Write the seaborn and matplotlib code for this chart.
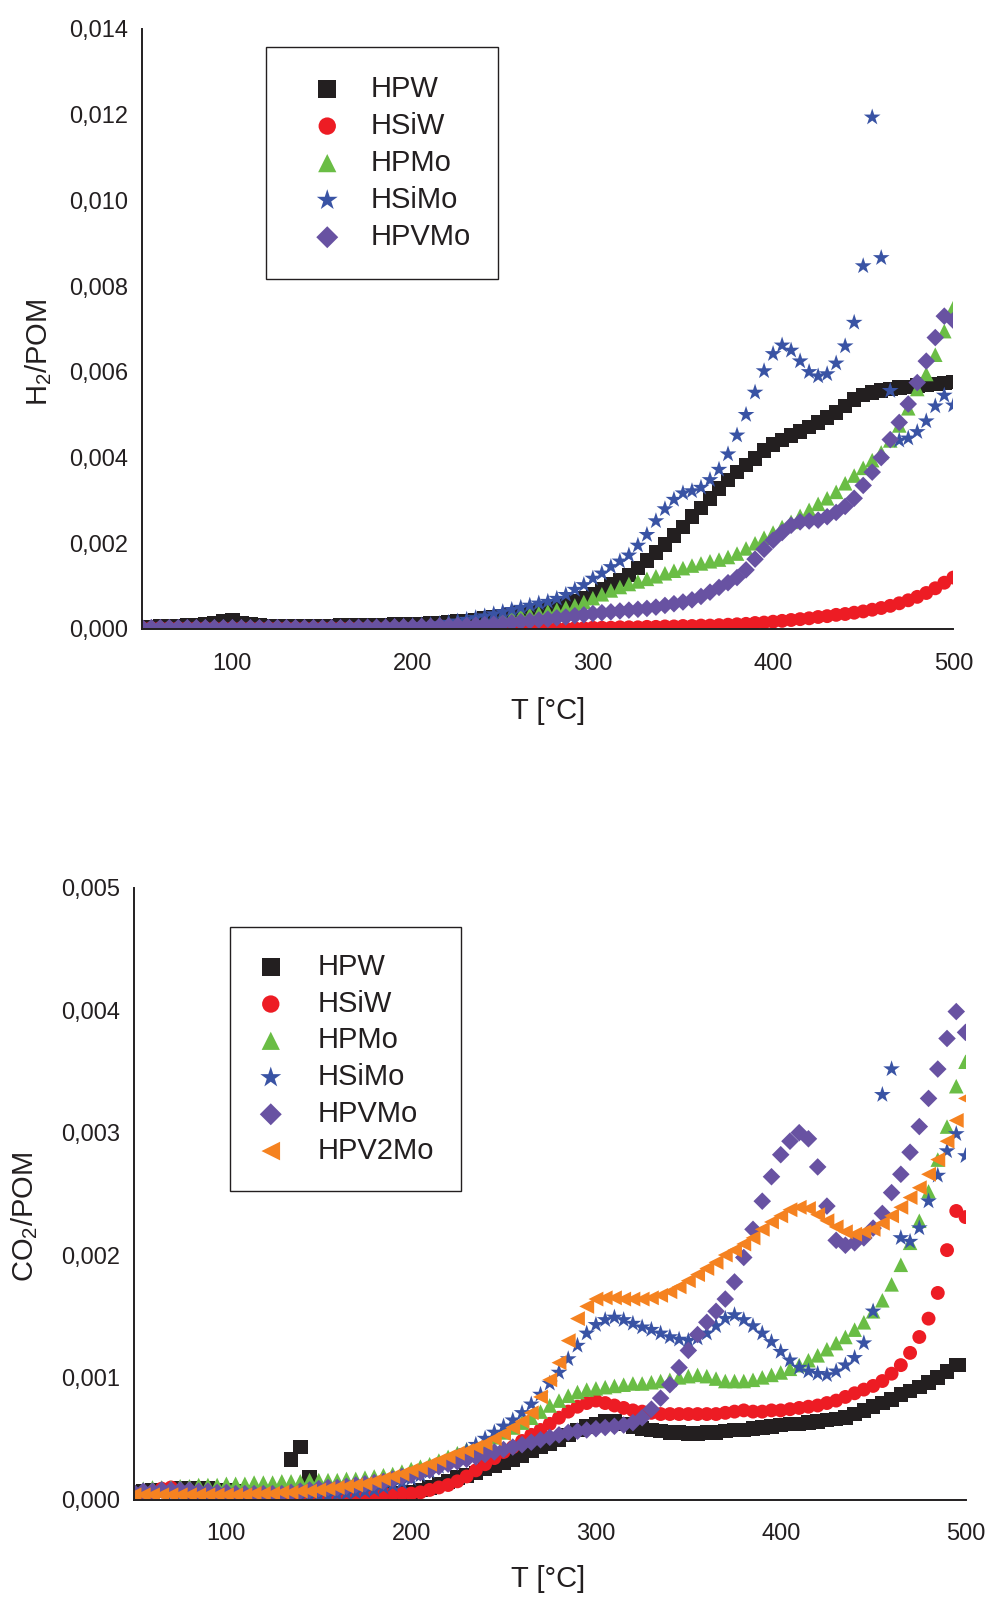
import numpy as np
import pandas as pd
import matplotlib
matplotlib.use('Agg')
import matplotlib.pyplot as plt
import seaborn as sns
from matplotlib.ticker import MultipleLocator, FuncFormatter

# Temperature grid [°C], one reading every 5 degrees
T = [50, 55, 60, 65, 70, 75, 80, 85, 90, 95,
     100, 105, 110, 115, 120, 125, 130, 135, 140, 145,
     150, 155, 160, 165, 170, 175, 180, 185, 190, 195,
     200, 205, 210, 215, 220, 225, 230, 235, 240, 245,
     250, 255, 260, 265, 270, 275, 280, 285, 290, 295,
     300, 305, 310, 315, 320, 325, 330, 335, 340, 345,
     350, 355, 360, 365, 370, 375, 380, 385, 390, 395,
     400, 405, 410, 415, 420, 425, 430, 435, 440, 445,
     450, 455, 460, 465, 470, 475, 480, 485, 490, 495,
     500]

# ---- H2/POM (values x 1e-3) ----
h2_HPW = [0.05, 0.05, 0.06, 0.06, 0.07, 0.08, 0.09, 0.11, 0.14, 0.18,
          0.20, 0.14, 0.10, 0.08, 0.07, 0.07, 0.07, 0.07, 0.07, 0.07,
          0.07, 0.07, 0.08, 0.08, 0.08, 0.08, 0.09, 0.09, 0.10, 0.10,
          0.11, 0.12, 0.13, 0.14, 0.15, 0.17, 0.19, 0.21, 0.24, 0.27,
          0.30, 0.33, 0.36, 0.40, 0.44, 0.48, 0.53, 0.58, 0.64, 0.72,
          0.82, 0.93, 1.04, 1.14, 1.26, 1.42, 1.60, 1.78, 1.97, 2.18,
          2.38, 2.62, 2.82, 3.05, 3.28, 3.48, 3.66, 3.83, 3.98, 4.16,
          4.30, 4.41, 4.52, 4.61, 4.71, 4.82, 4.93, 5.05, 5.20, 5.35,
          5.46, 5.52, 5.56, 5.60, 5.63, 5.65, 5.68, 5.70, 5.72, 5.74,
          5.76]
h2_HSiW = [0.02, 0.02, 0.02, 0.02, 0.02, 0.02, 0.02, 0.02, 0.02, 0.02,
           0.02, 0.02, 0.02, 0.02, 0.02, 0.02, 0.02, 0.02, 0.02, 0.02,
           0.02, 0.02, 0.02, 0.02, 0.02, 0.02, 0.02, 0.02, 0.02, 0.02,
           0.02, 0.02, 0.02, 0.02, 0.02, 0.02, 0.02, 0.02, 0.02, 0.02,
           0.01, 0.01, 0.01, 0.01, 0.01, 0.01, 0.01, 0.01, 0.02, 0.02,
           0.03, 0.03, 0.03, 0.04, 0.04, 0.04, 0.05, 0.05, 0.06, 0.06,
           0.07, 0.07, 0.08, 0.08, 0.09, 0.10, 0.11, 0.12, 0.14, 0.15,
           0.17, 0.19, 0.21, 0.23, 0.25, 0.28, 0.30, 0.33, 0.35, 0.38,
           0.41, 0.45, 0.49, 0.54, 0.60, 0.67, 0.75, 0.84, 0.95, 1.08,
           1.20]
h2_HPMo = [0.05, 0.05, 0.05, 0.05, 0.05, 0.05, 0.05, 0.05, 0.05, 0.05,
           0.05, 0.05, 0.05, 0.05, 0.05, 0.05, 0.05, 0.05, 0.05, 0.05,
           0.05, 0.05, 0.06, 0.06, 0.06, 0.06, 0.07, 0.07, 0.07, 0.08,
           0.08, 0.09, 0.10, 0.12, 0.14, 0.16, 0.18, 0.20, 0.23, 0.25,
           0.27, 0.29, 0.32, 0.34, 0.37, 0.41, 0.45, 0.50, 0.55, 0.63,
           0.72, 0.81, 0.90, 0.98, 1.05, 1.11, 1.17, 1.23, 1.30, 1.36,
           1.42, 1.48, 1.53, 1.58, 1.62, 1.68, 1.76, 1.88, 2.00, 2.13,
           2.25, 2.38, 2.50, 2.64, 2.78, 2.92, 3.05, 3.20, 3.40, 3.58,
           3.76, 3.94, 4.12, 4.40, 4.75, 5.15, 5.60, 5.95, 6.40, 6.95,
           7.50]
h2_HSiMo = [0.03, 0.03, 0.03, 0.03, 0.03, 0.03, 0.03, 0.03, 0.03, 0.03,
            0.03, 0.03, 0.03, 0.03, 0.03, 0.03, 0.03, 0.03, 0.03, 0.03,
            0.03, 0.03, 0.04, 0.04, 0.04, 0.05, 0.05, 0.06, 0.06, 0.07,
            0.08, 0.09, 0.10, 0.12, 0.15, 0.18, 0.22, 0.26, 0.30, 0.35,
            0.40, 0.45, 0.50, 0.55, 0.60, 0.64, 0.71, 0.80, 0.92, 1.03,
            1.18, 1.30, 1.45, 1.58, 1.72, 1.95, 2.20, 2.52, 2.80, 3.02,
            3.17, 3.22, 3.30, 3.48, 3.72, 4.08, 4.52, 5.00, 5.52, 6.02,
            6.42, 6.62, 6.50, 6.25, 6.00, 5.90, 5.95, 6.20, 6.60, 7.15,
            8.47, 11.94, 8.66, 5.56, 4.40, 4.45, 4.60, 4.85, 5.20, 5.45,
            5.22]
h2_HPVMo = [0.03, 0.03, 0.03, 0.03, 0.03, 0.03, 0.03, 0.03, 0.03, 0.03,
            0.03, 0.03, 0.03, 0.03, 0.03, 0.03, 0.03, 0.03, 0.03, 0.03,
            0.03, 0.03, 0.03, 0.03, 0.04, 0.04, 0.04, 0.04, 0.05, 0.05,
            0.05, 0.06, 0.06, 0.07, 0.07, 0.08, 0.08, 0.09, 0.10, 0.11,
            0.13, 0.15, 0.17, 0.19, 0.21, 0.23, 0.26, 0.28, 0.31, 0.33,
            0.36, 0.38, 0.40, 0.42, 0.44, 0.46, 0.48, 0.51, 0.55, 0.59,
            0.63, 0.68, 0.76, 0.86, 0.97, 1.08, 1.20, 1.38, 1.63, 1.86,
            2.07, 2.25, 2.42, 2.50, 2.52, 2.54, 2.62, 2.72, 2.86, 3.05,
            3.35, 3.66, 4.00, 4.42, 4.82, 5.25, 5.75, 6.25, 6.80, 7.30,
            7.20]

# ---- CO2/POM (values x 1e-3) ----
co2_HPW = [0.06, 0.07, 0.08, 0.08, 0.08, 0.09, 0.09, 0.09, 0.09, 0.08,
           0.08, 0.07, 0.06, 0.05, 0.05, 0.05, 0.05, 0.33, 0.43, 0.18,
           0.04, 0.03, 0.03, 0.03, 0.03, 0.03, 0.04, 0.04, 0.05, 0.05,
           0.06, 0.08, 0.10, 0.13, 0.15, 0.18, 0.20, 0.22, 0.25, 0.28,
           0.30, 0.33, 0.36, 0.40, 0.43, 0.46, 0.49, 0.53, 0.57, 0.60,
           0.62, 0.64, 0.64, 0.62, 0.60, 0.58, 0.57, 0.56, 0.55, 0.55,
           0.54, 0.54, 0.55, 0.55, 0.56, 0.57, 0.57, 0.58, 0.59, 0.60,
           0.61, 0.62, 0.62, 0.63, 0.64, 0.65, 0.66, 0.67, 0.70, 0.73,
           0.76, 0.79, 0.82, 0.86, 0.89, 0.92, 0.96, 1.00, 1.05, 1.10,
           1.10]
co2_HSiW = [0.05, 0.05, 0.06, 0.09, 0.10, 0.07, 0.05, 0.04, 0.04, 0.04,
            0.04, 0.04, 0.04, 0.04, 0.04, 0.04, 0.04, 0.04, 0.04, 0.04,
            0.04, 0.04, 0.04, 0.04, 0.04, 0.04, 0.04, 0.05, 0.05, 0.05,
            0.05, 0.06, 0.08, 0.10, 0.12, 0.15, 0.19, 0.24, 0.29, 0.34,
            0.39, 0.43, 0.48, 0.53, 0.57, 0.62, 0.67, 0.72, 0.76, 0.79,
            0.81, 0.79, 0.77, 0.75, 0.73, 0.72, 0.71, 0.70, 0.70, 0.70,
            0.70, 0.70, 0.70, 0.70, 0.71, 0.72, 0.73, 0.72, 0.72, 0.73,
            0.73, 0.74, 0.75, 0.76, 0.77, 0.79, 0.81, 0.84, 0.87, 0.90,
            0.93, 0.97, 1.03, 1.10, 1.20, 1.33, 1.48, 1.69, 2.04, 2.36,
            2.31]
co2_HPMo = [0.08, 0.09, 0.10, 0.10, 0.10, 0.11, 0.11, 0.12, 0.12, 0.12,
            0.13, 0.13, 0.13, 0.14, 0.14, 0.14, 0.15, 0.15, 0.15, 0.16,
            0.16, 0.16, 0.16, 0.17, 0.17, 0.18, 0.19, 0.20, 0.21, 0.23,
            0.25, 0.27, 0.29, 0.32, 0.35, 0.38, 0.41, 0.44, 0.47, 0.51,
            0.55, 0.59, 0.63, 0.67, 0.72, 0.77, 0.81, 0.85, 0.88, 0.90,
            0.91, 0.92, 0.93, 0.94, 0.95, 0.95, 0.96, 0.97, 0.98, 1.00,
            1.01, 1.02, 1.01, 0.99, 0.97, 0.97, 0.97, 0.98, 1.00, 1.02,
            1.04, 1.07, 1.10, 1.14, 1.18, 1.23, 1.28, 1.33, 1.39, 1.45,
            1.54, 1.63, 1.76, 1.92, 2.10, 2.28, 2.52, 2.78, 3.05, 3.38,
            3.58]
co2_HSiMo = [0.05, 0.05, 0.05, 0.05, 0.04, 0.04, 0.04, 0.04, 0.03, 0.03,
             0.03, 0.03, 0.03, 0.02, 0.02, 0.02, 0.02, 0.02, 0.02, 0.02,
             0.03, 0.03, 0.04, 0.05, 0.06, 0.07, 0.08, 0.10, 0.12, 0.14,
             0.17, 0.20, 0.23, 0.27, 0.31, 0.35, 0.40, 0.45, 0.50, 0.55,
             0.60, 0.65, 0.71, 0.78, 0.86, 0.95, 1.04, 1.15, 1.26, 1.36,
             1.43, 1.47, 1.49, 1.47, 1.44, 1.41, 1.39, 1.36, 1.33, 1.31,
             1.30, 1.32, 1.36, 1.42, 1.48, 1.51, 1.47, 1.42, 1.36, 1.29,
             1.21, 1.14, 1.08, 1.05, 1.03, 1.02, 1.05, 1.10, 1.16, 1.28,
             1.54, 3.31, 3.52, 2.14, 2.11, 2.22, 2.44, 2.65, 2.85, 2.99,
             2.81]
co2_HPVMo = [0.06, 0.07, 0.07, 0.08, 0.08, 0.08, 0.08, 0.07, 0.07, 0.06,
             0.06, 0.05, 0.05, 0.05, 0.05, 0.05, 0.05, 0.06, 0.07, 0.08,
             0.09, 0.10, 0.10, 0.11, 0.12, 0.13, 0.14, 0.15, 0.17, 0.19,
             0.20, 0.22, 0.24, 0.27, 0.29, 0.31, 0.33, 0.35, 0.37, 0.39,
             0.41, 0.43, 0.45, 0.47, 0.49, 0.51, 0.53, 0.55, 0.56, 0.57,
             0.58, 0.59, 0.60, 0.61, 0.63, 0.67, 0.74, 0.83, 0.94, 1.08,
             1.22, 1.35, 1.45, 1.54, 1.64, 1.78, 1.98, 2.21, 2.44, 2.64,
             2.82, 2.93, 3.00, 2.95, 2.72, 2.40, 2.12, 2.08, 2.10, 2.14,
             2.22, 2.34, 2.51, 2.66, 2.84, 3.05, 3.28, 3.52, 3.77, 3.99,
             3.82]
co2_HPV2Mo = [0.04, 0.04, 0.04, 0.04, 0.04, 0.04, 0.04, 0.04, 0.04, 0.04,
              0.04, 0.04, 0.04, 0.05, 0.05, 0.05, 0.06, 0.06, 0.07, 0.07,
              0.08, 0.09, 0.10, 0.11, 0.12, 0.13, 0.15, 0.17, 0.19, 0.21,
              0.24, 0.26, 0.29, 0.32, 0.35, 0.38, 0.40, 0.43, 0.46, 0.50,
              0.54, 0.59, 0.64, 0.71, 0.84, 0.98, 1.12, 1.30, 1.48, 1.58,
              1.64, 1.65, 1.65, 1.64, 1.64, 1.64, 1.65, 1.67, 1.70, 1.74,
              1.79, 1.84, 1.89, 1.94, 2.00, 2.04, 2.09, 2.14, 2.21, 2.27,
              2.32, 2.37, 2.39, 2.38, 2.33, 2.28, 2.23, 2.19, 2.17, 2.19,
              2.21, 2.26, 2.32, 2.39, 2.47, 2.55, 2.66, 2.78, 2.93, 3.10,
              3.28]

# marker, colour, size for each catalyst
STYLES = {
    'HPW':    ('s', '#231f20', 110),
    'HSiW':   ('o', '#ed1c24', 100),
    'HPMo':   ('^', '#6abd45', 110),
    'HSiMo':  ('*', '#3953a4', 160),
    'HPVMo':  ('D', '#6852a2', 80),
    'HPV2Mo': ('<', '#f58220', 115),
}
INK = '#231f20'


def make_long(series):
    # long-form table: T, value, catalyst
    frames = []
    for name, vals in series.items():
        frames.append(pd.DataFrame({'T': T, 'value': np.array(vals) * 1e-3, 'catalyst': name}))
    return pd.concat(frames, ignore_index=True)


def draw_panel(ax, data, ymax, ymajor):
    for name in data['catalyst'].unique():
        marker, color, size = STYLES[name]
        sub = data[data['catalyst'] == name]
        sns.scatterplot(data=sub, x='T', y='value', marker=marker, color=color,
                        s=size, linewidth=0, edgecolor='none', ax=ax, label=name)

    ax.set_xlim(50, 500)
    ax.set_ylim(0, ymax)
    ax.xaxis.set_major_locator(MultipleLocator(100))
    ax.xaxis.set_minor_locator(MultipleLocator(50))
    ax.yaxis.set_major_locator(MultipleLocator(ymajor))
    ax.yaxis.set_minor_locator(MultipleLocator(ymajor / 2))
    ax.yaxis.set_major_formatter(FuncFormatter(lambda v, p: f'{v:.3f}'.replace('.', ',')))
    ax.xaxis.set_major_formatter(FuncFormatter(lambda v, p: f'{v:.0f}'))

    for side in ['top', 'right']:
        ax.spines[side].set_visible(False)
    for side in ['left', 'bottom']:
        ax.spines[side].set_linewidth(1.4)
        ax.spines[side].set_color(INK)

    ax.tick_params(axis='y', which='major', direction='in', length=9, width=1.3,
                   labelsize=17, pad=10, colors=INK)
    ax.tick_params(axis='y', which='minor', direction='in', length=5, width=1.3, colors=INK)
    ax.tick_params(axis='x', which='major', direction='out', length=10, width=1.3,
                   labelsize=17, pad=7, colors=INK)
    ax.tick_params(axis='x', which='minor', direction='out', length=5.5, width=1.3, colors=INK)
    ax.set_ylabel('')
    ax.set_xlabel('T [°C]', fontsize=21, color=INK)


sns.set_style('white')
plt.rcParams['font.family'] = ['Liberation Sans', 'DejaVu Sans']
plt.rcParams['mathtext.fontset'] = 'custom'
plt.rcParams['mathtext.rm'] = 'Liberation Sans'
plt.rcParams['mathtext.it'] = 'Liberation Sans'

h2 = make_long({'HPW': h2_HPW, 'HSiW': h2_HSiW, 'HPMo': h2_HPMo,
                'HSiMo': h2_HSiMo, 'HPVMo': h2_HPVMo})
co2 = make_long({'HPW': co2_HPW, 'HSiW': co2_HSiW, 'HPMo': co2_HPMo,
                 'HSiMo': co2_HSiMo, 'HPVMo': co2_HPVMo, 'HPV2Mo': co2_HPV2Mo})

W, H = 991, 1598
fig = plt.figure(figsize=(W / 100, H / 100), dpi=100)
ax1 = fig.add_axes([142.3 / W, 1 - 629 / H, 811 / W, 600 / H])
ax2 = fig.add_axes([134 / W, 1 - 1499.7 / H, 831.5 / W, 611.7 / H])

draw_panel(ax1, h2, 0.014, 0.002)
draw_panel(ax2, co2, 0.005, 0.001)

ax1.xaxis.set_label_coords(0.5, -0.113)
ax2.xaxis.set_label_coords(0.4985, -0.107)

fig.text(39 / W, 1 - 352 / H, r'H$_\mathregular{2}$/POM', rotation=90, ha='center', va='center',
         fontsize=21, color=INK)
fig.text(25 / W, 1 - 1217 / H, r'CO$_\mathregular{2}$/POM', rotation=90, ha='center', va='center',
         fontsize=21, color=INK)

# legends
leg1 = ax1.legend(loc='upper left', bbox_to_anchor=(266 / W, 1 - 47 / H), bbox_transform=fig.transFigure,
                  fancybox=False, edgecolor=INK, framealpha=1, fontsize=21, borderpad=0.95,
                  labelspacing=0.31, handlelength=2.3, handletextpad=0.33, borderaxespad=0,
                  markerscale=1.25, scatterpoints=1)
leg1.get_frame().set_linewidth(1.0)
leg2 = ax2.legend(loc='upper left', bbox_to_anchor=(229.5 / W, 1 - 926.7 / H), bbox_transform=fig.transFigure,
                  fancybox=False, edgecolor=INK, framealpha=1, fontsize=21, borderpad=0.9,
                  labelspacing=0.3, handlelength=1.03, handletextpad=1.1, borderaxespad=0,
                  markerscale=1.25, scatterpoints=1)
leg2.get_frame().set_linewidth(1.0)
for leg in [leg1, leg2]:
    for txt in leg.get_texts():
        txt.set_color(INK)

fig.savefig('out.png', dpi=100)
